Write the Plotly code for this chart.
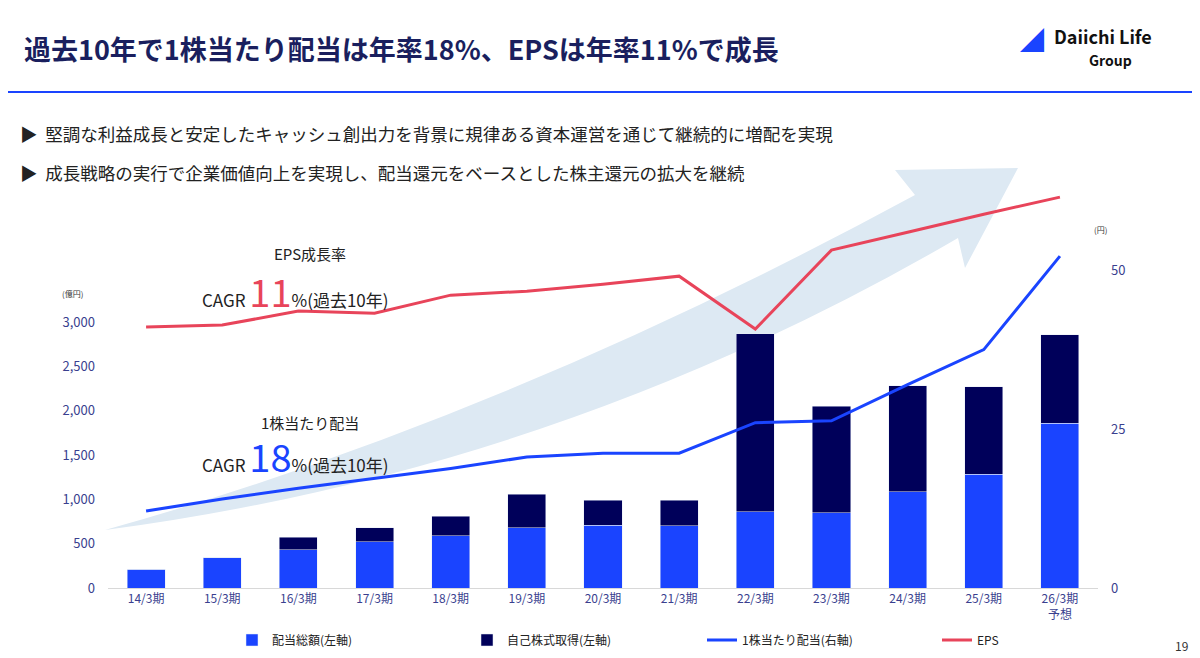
import plotly.graph_objects as go

periods = ["14/3期", "15/3期", "16/3期", "17/3期", "18/3期", "19/3期", "20/3期",
           "21/3期", "22/3期", "23/3期", "24/3期", "25/3期", "26/3期<br>予想"]
dividends = [210, 340, 430, 520, 590, 680, 710, 700, 860, 850, 1085, 1285, 1860]
buybacks = [0, 0, 145, 157, 220, 380, 280, 290, 2005, 1200, 1195, 985, 995]
dps = [12.1, 14.0, 15.7, 17.3, 18.8, 20.6, 21.2, 21.2, 26.0, 26.3, 32.0, 37.5, 52.2]
# EPS shown without its own scale; values in left-axis units
eps = [2943, 2965, 3123, 3100, 3303, 3348, 3427, 3517, 2920, 3811, 4013, 4216, 4408]

W, H = 1200, 658
OFF = 8  # page margin around the rendered figure
L, R, T, B = 108 - OFF, 102 + OFF, 189 - OFF, 70 + OFF
Y1MAX = 4500
Y2MAX = Y1MAX * 50 / 3585

def px(x, y):
    # screenshot pixel -> paper coords
    x, y = x - OFF, y - OFF
    return (x - L) / (W - L - R), (H - B - y) / (H - T - B)

FONT = "Noto Sans CJK JP"
NAVY = "#1a1f5e"
BLUE = "#1a44ff"
DARK = "#00005a"
RED = "#e8445a"

fig = go.Figure()
fig.add_trace(go.Bar(x=periods, y=dividends, name="配当総額(左軸)", marker_color=BLUE, width=0.5))
fig.add_trace(go.Bar(x=periods, y=buybacks, name="自己株式取得(左軸)", marker_color=DARK, width=0.5))
fig.add_trace(go.Scatter(x=periods, y=dps, name="1株当たり配当(右軸)", mode="lines",
                         line=dict(color=BLUE, width=3), yaxis="y2"))
fig.add_trace(go.Scatter(x=periods, y=eps, name="EPS", mode="lines",
                         line=dict(color=RED, width=3), yaxis="y3"))

# background arrow
pts = {
    "a": px(105, 530), "b": px(500, 420), "c": px(915, 195),
    "d": px(895, 170), "e": px(1018, 168), "f": px(965, 268), "g": px(958, 238),
    "h": px(560, 470), "i": px(105, 530),
}
path = ("M {a[0]},{a[1]} Q {b[0]},{b[1]} {c[0]},{c[1]} L {d[0]},{d[1]} L {e[0]},{e[1]} "
        "L {f[0]},{f[1]} L {g[0]},{g[1]} Q {h[0]},{h[1]} {i[0]},{i[1]} Z").format(**pts)
shapes = [dict(type="path", path=path, xref="paper", yref="paper", layer="below",
               fillcolor="#dde9f3", line=dict(width=0)),
          dict(type="line", xref="paper", yref="paper", x0=px(8, 0)[0], x1=px(1195, 0)[0],
               y0=px(0, 92)[1], y1=px(0, 92)[1], line=dict(color="#1a44ff", width=2))]

def ann(x, y, text, size, color="#222", xanchor="left", **kw):
    X, Y = px(x, y)
    return dict(x=X, y=Y, xref="paper", yref="paper", text=text, showarrow=False,
                xanchor=xanchor, yanchor="middle", font=dict(size=size, color=color, family=FONT), **kw)

annotations = [
    ann(22, 48, "<b>過去10年で1株当たり配当は年率18%、EPSは年率11%で成長</b>", 27, NAVY),
    ann(1052, 36, "<b>Daiichi Life</b>", 18, "#111"),
    ann(1110, 60, "<b>Group</b>", 14, "#111", xanchor="center"),
    ann(1018, 38, "◢", 24, BLUE),
    ann(18, 133, "▶  堅調な利益成長と安定したキャッシュ創出力を背景に規律ある資本運営を通じて継続的に増配を実現", 17.5, "#222"),
    ann(18, 172, "▶  成長戦略の実行で企業価値向上を実現し、配当還元をベースとした株主還元の拡大を継続", 17.5, "#222"),
    ann(310, 253, "EPS成長率", 15, "#222", xanchor="center"),
    ann(200, 290, "CAGR <span style='font-size:38px;color:#e8445a'>11</span>%(過去10年)", 17, "#222"),
    ann(310, 422, "1株当たり配当", 15, "#222", xanchor="center"),
    ann(200, 455, "CAGR <span style='font-size:38px;color:#1a44ff'>18</span>%(過去10年)", 17, "#222"),
    ann(72, 293, "(億円)", 8, "#333", xanchor="center"),
    ann(1100, 229, "(円)", 8, "#333", xanchor="center"),
    ann(1173, 645, "19", 12, "#333"),
]

lx, ly = px(232, 640)
fig.update_layout(
    width=W, height=H, margin=dict(l=L, r=R, t=T, b=B, autoexpand=False),
    paper_bgcolor="white", plot_bgcolor="white", barmode="stack",
    font=dict(family=FONT, color="#3a3f8f", size=13),
    xaxis=dict(showgrid=False, showline=True, linecolor="#d8d8d8", ticks="",
               tickfont=dict(size=12, color="#3a3f8f"), range=[-0.5, 12.5]),
    yaxis=dict(range=[0, Y1MAX], tickvals=[0, 500, 1000, 1500, 2000, 2500, 3000],
               tickformat=",", showgrid=False, zeroline=False, tickfont=dict(size=13), ticklabelstandoff=12),
    yaxis2=dict(range=[0, Y2MAX], tickvals=[0, 25, 50], overlaying="y", side="right",
                showgrid=False, zeroline=False, tickfont=dict(size=13), ticklabelstandoff=12),
    yaxis3=dict(range=[0, Y1MAX], overlaying="y", visible=False),
    legend=dict(orientation="h", x=lx, y=ly, xanchor="left", yanchor="middle",
                entrywidth=190, font=dict(size=12, color="#222"), traceorder="normal"),
    shapes=shapes, annotations=annotations,
)

fig.write_html("out.html")
